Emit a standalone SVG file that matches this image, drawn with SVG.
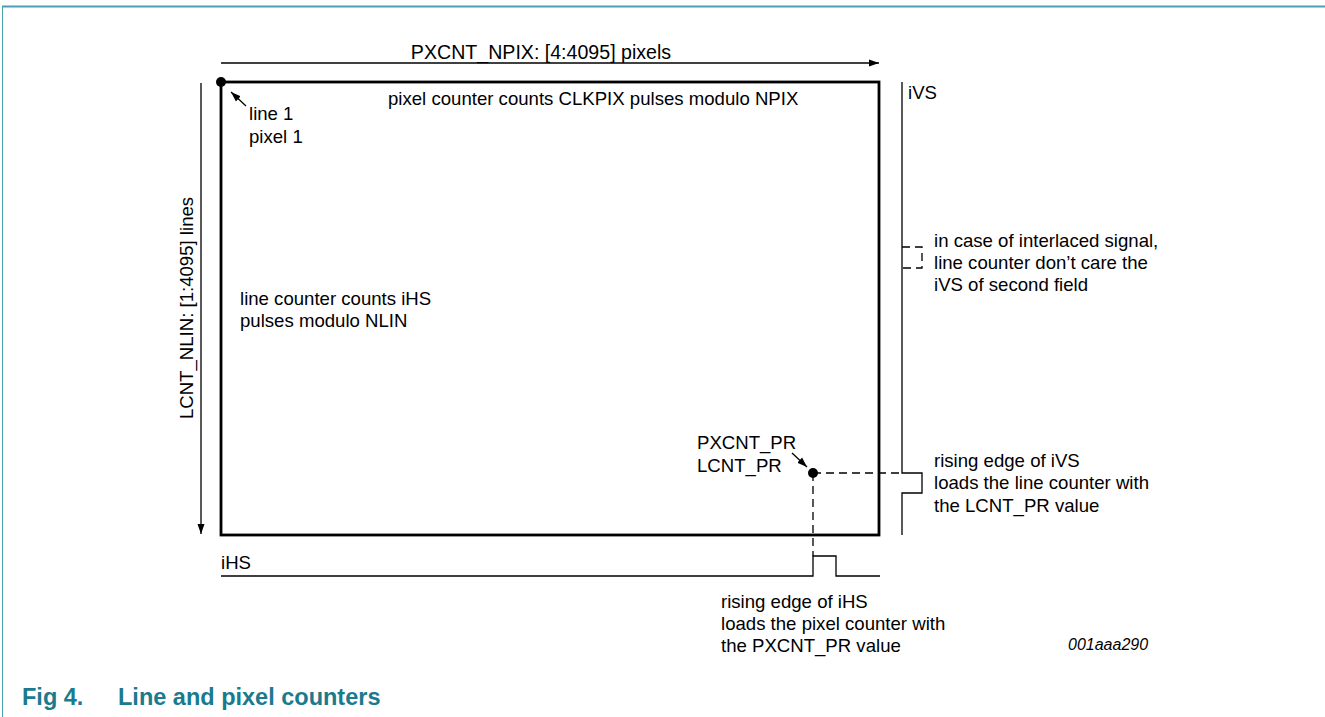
<svg xmlns="http://www.w3.org/2000/svg" width="1325" height="717" viewBox="0 0 1325 717">
<style>
text{font-family:"Liberation Sans",Arial,sans-serif;font-size:18.6px;fill:#000}
.thin{fill:none;stroke:#000;stroke-width:1.3}
.dash{fill:none;stroke:#000;stroke-width:1.3;stroke-dasharray:8,5}
.cap{font-weight:bold;font-size:23.5px;fill:#1a7a8e}
</style>
<defs>
<marker id="ah" viewBox="0 0 10 10" refX="10" refY="5" markerWidth="10" markerHeight="10" markerUnits="userSpaceOnUse" orient="auto">
<path d="M0,1.5 L10,5 L0,8.5 z" fill="#000"/>
</marker>
</defs>
<rect x="0" y="0" width="1325" height="717" fill="#fff"/>
<g id="frame">
<line x1="2" y1="6.5" x2="1325" y2="6.5" stroke="#4a9fb0" stroke-width="2"/>
<line x1="2.5" y1="6" x2="2.5" y2="717" stroke="#4a9fb0" stroke-width="1"/>
</g>
<g id="field">
<rect x="221" y="82" width="658" height="453" fill="none" stroke="#000" stroke-width="2.8"/>
<circle cx="221" cy="82" r="5" fill="#000"/>
<text x="388" y="105">pixel counter counts CLKPIX pulses modulo NPIX</text>
<text x="240" y="305">line counter counts iHS</text>
<text x="240" y="327">pulses modulo NLIN</text>
</g>
<g id="start-label">
<text x="249" y="120">line 1</text>
<text x="249" y="143">pixel 1</text>
</g>
<g id="pr-point">
<circle cx="813" cy="473" r="5" fill="#000"/>
<text x="697" y="449">PXCNT_PR</text>
<text x="697" y="472">LCNT_PR</text>
</g>
<g id="ivs">
<path class="thin" d="M902,82 V473 H922 V493 H902 V535"/>
<path class="dash" d="M902,247 H922 V268 H902" stroke-dasharray="6,4"/>
<text x="908" y="99">iVS</text>
<text x="934" y="247">in case of interlaced signal,</text>
<text x="934" y="269">line counter don’t care the</text>
<text x="934" y="291">iVS of second field</text>
<text x="934" y="467">rising edge of iVS</text>
<text x="934" y="489">loads the line counter with</text>
<text x="934" y="512">the LCNT_PR value</text>
</g>
<g id="ihs">
<path class="thin" d="M221,576 H813 V556 H836 V576 H880"/>
<text x="221" y="569">iHS</text>
<text x="721" y="608">rising edge of iHS</text>
<text x="721" y="630">loads the pixel counter with</text>
<text x="721" y="652">the PXCNT_PR value</text>
</g>
<g id="connectors">
<line class="thin" x1="221" y1="63" x2="879" y2="63" marker-end="url(#ah)"/>
<line class="thin" x1="201" y1="83" x2="201" y2="534" marker-end="url(#ah)"/>
<line class="thin" x1="246" y1="106" x2="231" y2="92" marker-end="url(#ah)"/>
<line class="thin" x1="792" y1="453" x2="807" y2="467" marker-end="url(#ah)"/>
<path class="dash" d="M813,473 H902"/>
<path class="dash" d="M813,473 V556"/>
</g>
<text x="541" y="59" text-anchor="middle" style="font-size:19.6px">PXCNT_NPIX: [4:4095] pixels</text>
<text transform="translate(193,308) rotate(-90)" text-anchor="middle">LCNT_NLIN: [1:4095] lines</text>
<text x="1068" y="650" style="font-style:italic;font-size:16px">001aaa290</text>
<text class="cap" x="22" y="705">Fig 4.</text>
<text class="cap" x="118" y="705">Line and pixel counters</text>
</svg>
